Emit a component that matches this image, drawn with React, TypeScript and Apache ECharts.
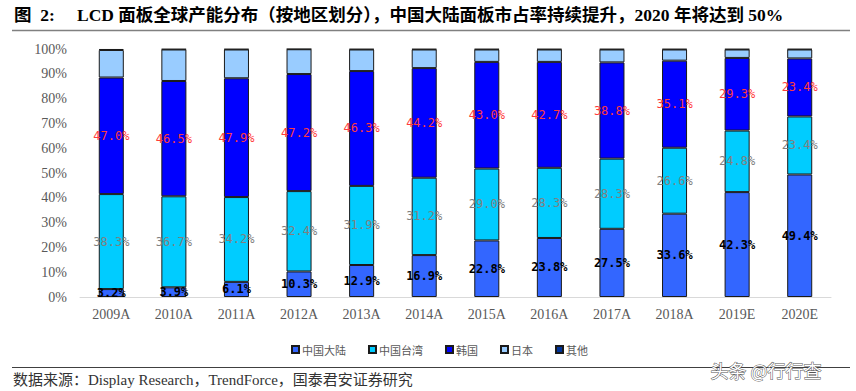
import React, { useEffect, useRef } from "react";
import * as echarts from "echarts";

const categories = ["2009A", "2010A", "2011A", "2012A", "2013A", "2014A", "2015A", "2016A", "2017A", "2018A", "2019E", "2020E"];
const mainland = [3.2, 3.9, 6.1, 10.3, 12.9, 16.9, 22.8, 23.8, 27.5, 33.6, 42.3, 49.4];
const taiwan = [38.3, 36.7, 34.2, 32.4, 31.9, 31.2, 29.0, 28.3, 28.3, 26.6, 24.8, 23.4];
const korea = [47.0, 46.5, 47.9, 47.2, 46.3, 44.2, 43.0, 42.7, 38.8, 35.1, 29.3, 23.4];
const japan = [11.1, 12.7, 11.6, 10.0, 8.7, 7.5, 5.0, 5.0, 5.2, 4.5, 3.4, 3.6];
const others = [0.4, 0.2, 0.2, 0.1, 0.2, 0.2, 0.2, 0.2, 0.2, 0.2, 0.2, 0.2];
const seriesNames = ["中国大陆", "中国台湾", "韩国", "日本", "其他"];
const yTicks = [0, 10, 20, 30, 40, 50, 60, 70, 80, 90, 100];

const titleText = "LCD 面板全球产能分布（按地区划分），中国大陆面板市占率持续提升，2020 年将达到 50%";
const sourceText = "数据来源：Display Research，TrendForce，国泰君安证券研究";

export default function App() {
  const ref = useRef<HTMLDivElement>(null);
  useEffect(() => {
    document.body.style.margin = "0";
    const chart = echarts.init(ref.current!, null, { renderer: "svg" });
    const labelFont = "'DejaVu Sans Mono', monospace";
    const mk = (name: string, data: number[], color: string, label: any) => ({
      name,
      type: "bar",
      stack: "total",
      barWidth: "40%",
      data,
      itemStyle: { color, borderColor: "#1a1a1a", borderWidth: 1 },
      label,
    });
    const fmt = (p: any) => p.value.toFixed(1) + "%";
    chart.setOption({
      animation: false,
      backgroundColor: "#ffffff",
      grid: { left: 80, right: 25, top: 49, bottom: 94 },
      legend: {
        data: seriesNames,
        top: 339,
        left: 286,
        icon: "rect",
        itemWidth: 7,
        itemHeight: 7,
        itemGap: 22,
        textStyle: { fontSize: 11, color: "#595959", fontFamily: "'Noto Sans CJK SC'", padding: [0, 0, 0, -2] },
      },
      xAxis: {
        type: "category",
        data: categories,
        axisLine: { lineStyle: { color: "#d9d9d9", width: 1 } },
        axisTick: { show: false },
        axisLabel: { fontFamily: "'Liberation Serif', serif", fontSize: 14, color: "#595959", margin: 10 },
      },
      yAxis: {
        type: "value",
        min: 0,
        max: 100,
        interval: 10,
        splitLine: { show: false },
        axisLine: { show: false },
        axisTick: { show: false },
        axisLabel: {
          fontFamily: "'Liberation Serif', serif",
          fontSize: 14,
          color: "#595959",
          margin: 13,
          formatter: (v: number) => (yTicks.includes(v) ? v + "%" : ""),
        },
      },
      series: [
        mk("中国大陆", mainland, "#3366FF", {
          show: true, position: "inside", formatter: fmt, color: "#000", fontWeight: "bold", fontSize: 12, fontFamily: labelFont,
        }),
        mk("中国台湾", taiwan, "#00CCFF", {
          show: true, position: "inside", formatter: fmt, color: "#808080", fontSize: 12, fontFamily: labelFont,
        }),
        mk("韩国", korea, "#0000FF", {
          show: true, position: "inside", formatter: fmt, color: "#FF3B3B", fontSize: 12, fontFamily: labelFont,
        }),
        mk("日本", japan, "#99CCFF", { show: false }),
        mk("其他", others, "#003399", { show: false }),
      ],
      graphic: [
        { type: "text", left: 14, top: 6, style: { text: "图  2:", font: "bold 17.5px 'Liberation Serif', 'Noto Sans CJK SC'", fill: "#000" } },
        { type: "text", left: 77, top: 6, style: { text: titleText, font: "bold 17.5px 'Liberation Serif', 'Noto Sans CJK SC'", fill: "#000" } },
        { type: "line", shape: { x1: 12, y1: 30.5, x2: 850, y2: 30.5 }, style: { stroke: "#808080", lineWidth: 1.5 } },
        { type: "line", shape: { x1: 12, y1: 367.5, x2: 850, y2: 367.5 }, style: { stroke: "#404040", lineWidth: 1 } },
        { type: "text", left: 13, top: 372, style: { text: sourceText, font: "15px 'Liberation Serif', 'Noto Sans CJK SC'", fill: "#333" } },
        { type: "text", left: 710, top: 360, style: { text: "头条 @行行查", font: "18px 'Noto Sans CJK SC'", fill: "#ffffff", stroke: "#555", lineWidth: 1 } },
      ],
    });
    return () => chart.dispose();
  }, []);
  return <div ref={ref} style={{ width: 856, height: 391 }} />;
}
